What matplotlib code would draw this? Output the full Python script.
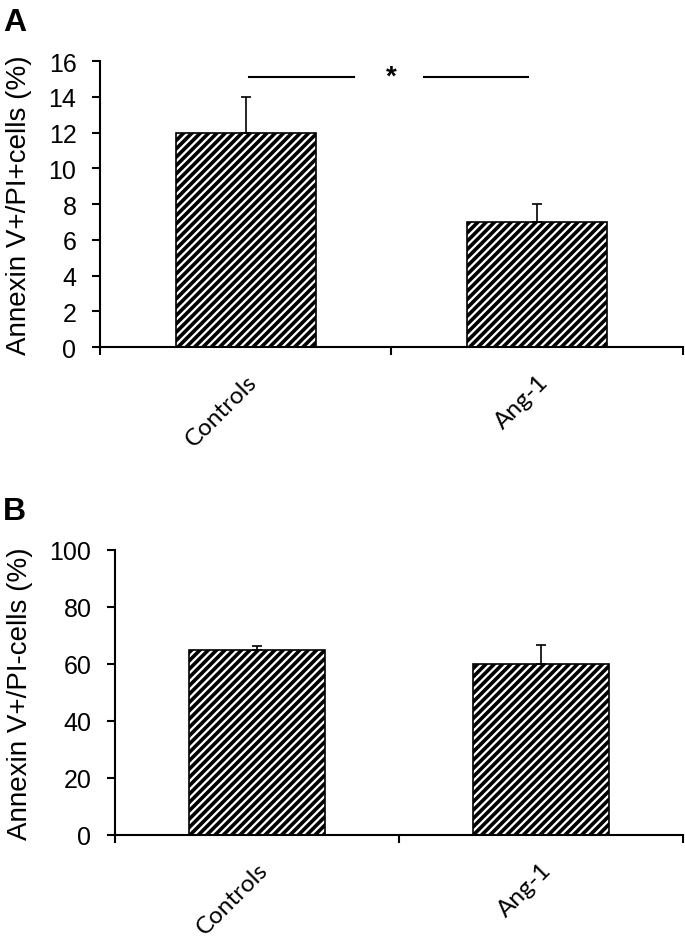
"""Annexin V / PI bar charts, panels A and B."""

import matplotlib

matplotlib.use("Agg")
import matplotlib.pyplot as plt

categories = ["Controls", "Ang-1"]

# panel A: Annexin V+/PI+ cells (%)
a_values = [12.0, 7.0]
a_errors = [2.0, 1.0]
a_ylabel = "Annexin V+/PI+cells (%)"
a_yticks = [0, 2, 4, 6, 8, 10, 12, 14, 16]
a_sig_y = 15.1
a_sig_text = "*"

# panel B: Annexin V+/PI- cells (%)
b_values = [65.0, 60.0]
b_errors = [1.4, 6.7]
b_ylabel = "Annexin V+/PI-cells (%)"
b_yticks = [0, 20, 40, 60, 80, 100]

plt.rcParams["hatch.linewidth"] = 2.6
plt.rcParams["font.family"] = ["Liberation Sans", "DejaVu Sans"]


def draw_panel(ax, values, errors, yticks, ylabel):
    x = list(range(len(categories)))
    ax.bar(x, values, width=0.48, color="white", edgecolor="black",
           hatch="////", linewidth=1.2, zorder=2)
    ax.errorbar(x, values, yerr=[[0] * len(errors), errors], fmt="none",
                ecolor="black", elinewidth=1.2, capsize=3.5, capthick=1.2, zorder=3)
    ax.set_xlim(-0.5, len(categories) - 0.5)
    ax.set_ylim(yticks[0], yticks[-1])
    ax.set_yticks(yticks)
    ax.set_xticks(x)
    ax.set_xticklabels(categories, rotation=45, ha="right", rotation_mode="anchor",
                       family="Lato", fontsize=17.5)
    ax.set_xticks([i - 0.5 for i in range(len(categories) + 1)], minor=True)
    ax.tick_params(axis="x", which="major", length=0, pad=17)
    ax.tick_params(axis="x", which="minor", length=6, width=1.5, direction="out")
    ax.tick_params(axis="y", length=6, width=1.5, direction="out", labelsize=18, pad=11)
    for side in ("top", "right"):
        ax.spines[side].set_visible(False)
    for side in ("left", "bottom"):
        ax.spines[side].set_linewidth(1.5)
    ax.set_ylabel(ylabel, fontsize=20, labelpad=12)


fig = plt.figure(figsize=(6.85, 9.37), dpi=100)

ax_a = fig.add_axes([0.146, 0.6286, 0.851, 0.3052])
draw_panel(ax_a, a_values, a_errors, a_yticks, a_ylabel)
ax_a.plot([0.01, 0.37], [a_sig_y, a_sig_y], color="black", lw=1.5, clip_on=False)
ax_a.plot([0.61, 0.97], [a_sig_y, a_sig_y], color="black", lw=1.5, clip_on=False)
ax_a.text(0.5, a_sig_y + 0.05, a_sig_text, ha="center", va="center",
          fontsize=20, fontweight="bold")

ax_b = fig.add_axes([0.168, 0.1078, 0.829, 0.3042])
draw_panel(ax_b, b_values, b_errors, b_yticks, b_ylabel)

fig.text(0.004, 0.975, "A", fontsize=23, fontweight="bold", va="center", ha="left")
fig.text(0.004, 0.454, "B", fontsize=23, fontweight="bold", va="center", ha="left")

fig.savefig("out.png", dpi=100)
plt.close(fig)
